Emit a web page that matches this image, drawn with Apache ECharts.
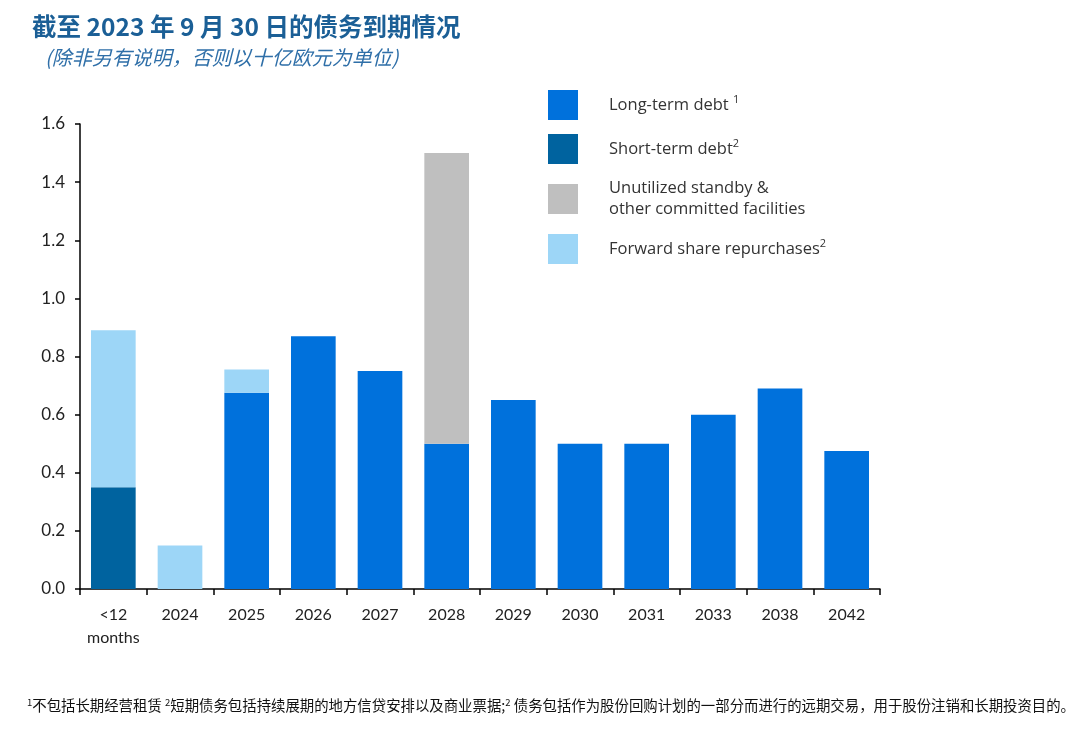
<!DOCTYPE html>
<html>
<head>
<meta charset="utf-8">
<script src="https://cdn.jsdelivr.net/npm/echarts@6/dist/echarts.min.js"></script>
<style>html,body{margin:0;padding:0;background:#fff}#c{width:1080px;height:746px}</style>
</head>
<body>
<div id="c"></div>
<script>
var categories = ['<12\nmonths', '2024', '2025', '2026', '2027', '2028', '2029', '2030', '2031', '2033', '2038', '2042'];
var shortTermDebt = [0.35, null, null, null, null, null, null, null, null, null, null, null];
var longTermDebt = [null, null, 0.675, 0.87, 0.75, 0.50, 0.65, 0.50, 0.50, 0.60, 0.69, 0.475];
var unutilizedFacilities = [null, null, null, null, null, 1.0, null, null, null, null, null, null];
var forwardRepurchases = [0.54, 0.15, 0.08, null, null, null, null, null, null, null, null, null];
var yTicks = [0, 0.2, 0.4, 0.6, 0.8, 1.0, 1.2, 1.4, 1.6];

var chart = echarts.init(document.getElementById('c'));
var legendNames = {
  'Long-term debt': '{s|}Long-term debt {sup|1}',
  'Short-term debt': '{s|}Short-term debt{sup|2}',
  'Unutilized standby & other committed facilities': '{s|}Unutilized standby &\n{s|}other committed facilities',
  'Forward share repurchases': '{s|}Forward share repurchases{sup|2}'
};
var baseFont = '"Open Sans", "Noto Sans", sans-serif';
var axisFont = 'Lato, "Open Sans", sans-serif';
var cjk = '"Noto Sans CJK SC", "Noto Sans", sans-serif';

var option = {
  animation: false,
  backgroundColor: '#ffffff',
  title: [{
    text: '截至 2023 年 9 月 30 日的债务到期情况',
    left: 27, top: 9,
    textStyle: {fontFamily: cjk, fontSize: 24.5, fontWeight: 'bold', color: '#1B5F96'}
  }, {
    text: '(除非另有说明，否则以十亿欧元为单位)',
    left: 40, top: 42,
    textStyle: {fontFamily: cjk, fontSize: 20, fontStyle: 'italic', fontWeight: 'normal', color: '#2F6FA8'}
  }],
  legend: {
    orient: 'vertical',
    left: 543, top: 85,
    itemWidth: 30, itemHeight: 30, itemGap: 14,
    icon: 'rect',
    data: ['Long-term debt', 'Short-term debt', 'Unutilized standby & other committed facilities', 'Forward share repurchases'],
    formatter: function (n) { return legendNames[n]; },
    textStyle: {
      fontFamily: baseFont, fontSize: 16.5, color: '#333', lineHeight: 21,
      rich: {
        s: {width: 26},
        sup: {fontSize: 11, verticalAlign: 'top', lineHeight: 14, fontFamily: baseFont, color: '#333'}
      }
    }
  },
  grid: {left: 80, right: 200, top: 124, bottom: 157, containLabel: false},
  xAxis: {
    type: 'category',
    data: categories,
    axisLine: {lineStyle: {color: '#000', width: 1.5}},
    axisTick: {show: true, length: 6, lineStyle: {color: '#000', width: 1.5}},
    axisLabel: {fontFamily: axisFont, fontSize: 16, color: '#222', margin: 14, lineHeight: 23, interval: 0}
  },
  yAxis: {
    type: 'value', min: 0, max: 1.6, interval: 0.2,
    axisLine: {show: true, lineStyle: {color: '#000', width: 1.5}},
    axisTick: {show: true, length: 5, lineStyle: {color: '#000', width: 1.5}},
    splitLine: {show: false},
    axisLabel: {fontFamily: axisFont, fontSize: 17, color: '#222', margin: 15,
      formatter: function (v) { return v.toFixed(1); }}
  },
  series: [
    {name: 'Short-term debt', type: 'bar', stack: 't', data: shortTermDebt, barWidth: '67%', itemStyle: {color: '#00639F'}},
    {name: 'Long-term debt', type: 'bar', stack: 't', data: longTermDebt, barWidth: '67%', itemStyle: {color: '#0071DC'}},
    {name: 'Unutilized standby & other committed facilities', type: 'bar', stack: 't', data: unutilizedFacilities, barWidth: '67%', itemStyle: {color: '#BFBFBF'}},
    {name: 'Forward share repurchases', type: 'bar', stack: 't', data: forwardRepurchases, barWidth: '67%', itemStyle: {color: '#9DD6F7'}}
  ],
  graphic: [{
    type: 'text', left: 27, top: 698,
    style: {
      text: '{sup|1}不包括长期经营租赁 {sup|2}短期债务包括持续展期的地方信贷安排以及商业票据;{sup|2} 债务包括作为股份回购计划的一部分而进行的远期交易，用于股份注销和长期投资目的。',
      font: '14.4px ' + cjk, fill: '#111',
      rich: {sup: {fontSize: 9.5, verticalAlign: 'top', lineHeight: 12, fill: '#111', fontFamily: cjk}}
    }
  }]
};
chart.setOption(option);
</script>
</body>
</html>
